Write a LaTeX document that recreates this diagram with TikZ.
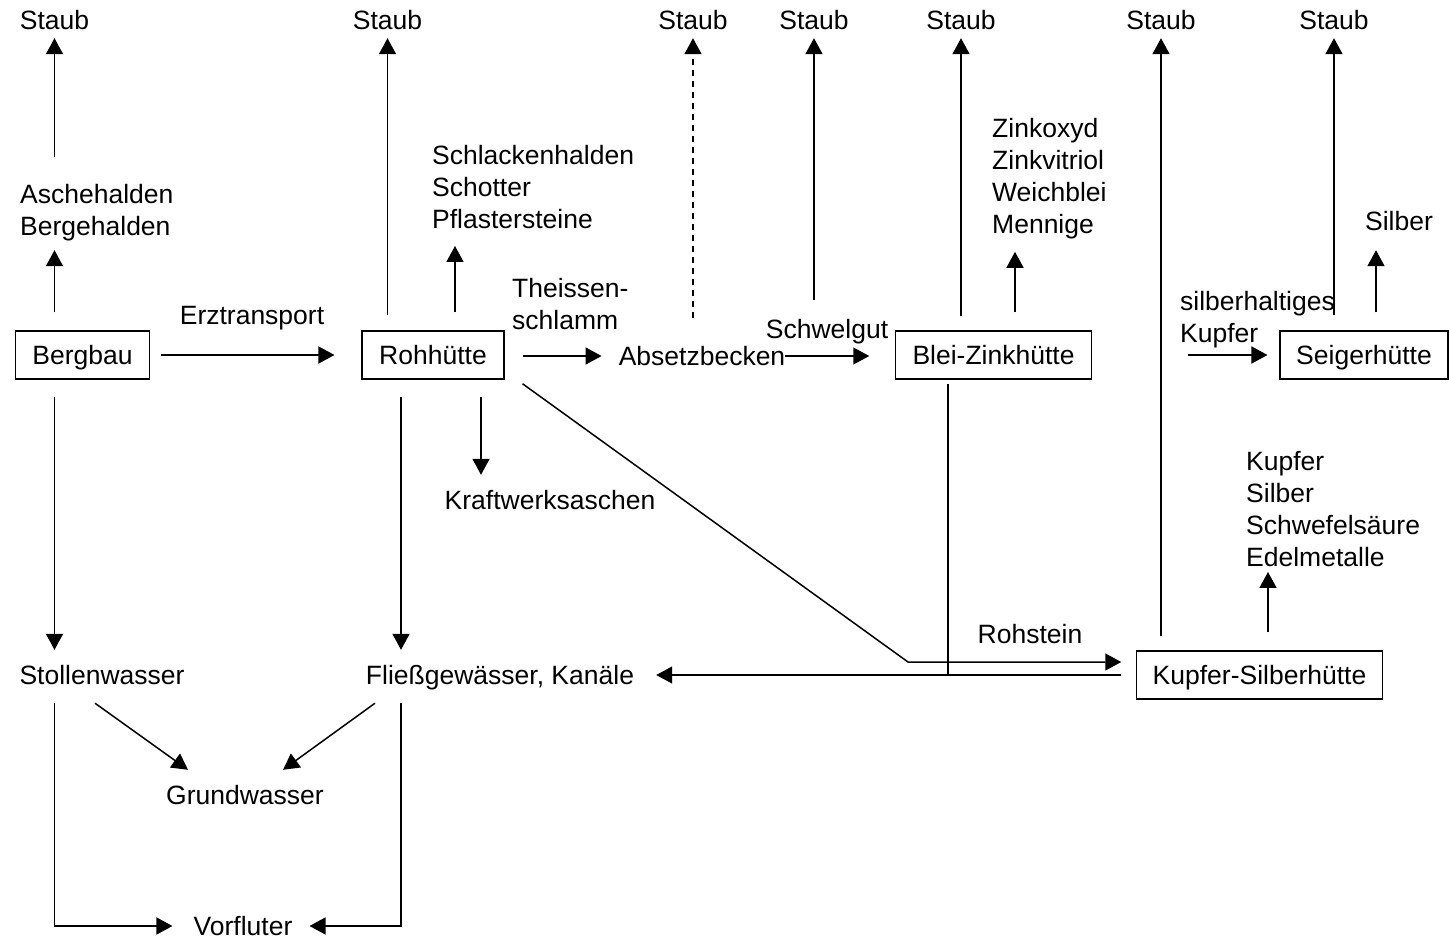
\documentclass[tikz,border=0pt]{standalone}
\usepackage{fontspec}
\setmainfont{Liberation Sans}
\usetikzlibrary{arrows.meta}
\tikzset{
  every node/.style={font=\fontsize{26.5}{32}\selectfont},
  txt/.style={inner sep=0pt, text height=19pt, text depth=0pt},
  lst/.style={inner sep=0pt, align=left, anchor=base west},
  box/.style={draw, line width=1.5pt, inner xsep=17pt, inner ysep=14.5pt, text height=19pt, text depth=0pt},
  arr/.style={line width=1.5pt, -{Triangle[length=16pt,width=17pt]}},
  strich/.style={line width=1.5pt}
}
\begin{document}
\begin{tikzpicture}[x=1pt,y=-1pt]
\useasboundingbox (0,0) rectangle (1449,939);
% Betriebe
\node[box] (bergbau) at (82.5,355) {Bergbau};
\node[box] (roh) at (433,355) {Rohhütte};
\node[box] (blei) at (993.5,355) {Blei-Zinkhütte};
\node[box, inner xsep=16pt] (seiger) at (1364,355) {Seigerhütte};
\node[box, inner xsep=16pt] (kupfer) at (1259.5,675) {Kupfer-Silberhütte};
% Staub
\foreach \n/\x in {1/54.5,2/387.5,3/693,4/814,5/961,6/1161,7/1334}
  \node[txt] (staub\n) at (\x,20) {Staub};
% Produkte (Grundlinie der letzten Zeile)
\node[lst] (asche) at (20,235.5) {Aschehalden\\Bergehalden};
\node[lst] (schlacken) at (432,228.5) {Schlackenhalden\\Schotter\\Pflastersteine};
\node[lst] (theissen) at (512,329.5) {Theissen-\\schlamm};
\node[lst] (zink) at (992,233.5) {Zinkoxyd\\Zinkvitriol\\Weichblei\\Mennige};
\node[lst] (silberh) at (1180,342.5) {silberhaltiges\\Kupfer};
\node[lst] (kupferlst) at (1246,566.5) {Kupfer\\Silber\\Schwefelsäure\\Edelmetalle};
\node[txt] (silber) at (1399,221) {Silber};
\node[txt] (erz) at (252,315) {Erztransport};
\node[txt] (absetz) at (702,356) {Absetzbecken};
\node[txt] (schwel) at (827,329) {Schwelgut};
\node[txt] (kraft) at (550,500) {Kraftwerksaschen};
\node[txt] (rohstein) at (1030,634) {Rohstein};
% Wasser
\node[txt] (stollen) at (102,675) {Stollenwasser};
\node[txt] (fliess) at (500,675) {Fließgewässer, Kanäle};
\node[txt] (grund) at (245,795) {Grundwasser};
\node[txt] (vorfluter) at (243,926) {Vorfluter};
\coordinate (knick) at (908,662);

% Staubpfeile
\draw[arr, shorten <=18pt, shorten >=9pt] (bergbau.north -| staub1) -- (asche.south -| staub1);
\draw[arr, shorten <=27pt, shorten >=8.5pt] (asche.north -| staub1) -- (staub1.south);
\draw[arr, shorten <=15pt, shorten >=8.5pt] (roh.north -| staub2) -- (staub2.south);
\draw[arr, dash pattern=on 6pt off 5pt, shorten <=28.5pt, shorten >=8.5pt] (absetz.north -| staub3) -- (staub3.south);
\draw[arr, shorten <=19.5pt, shorten >=8.5pt] (schwel.north -| staub4) -- (staub4.south);
\draw[arr, shorten <=14pt, shorten >=8.5pt] (blei.north -| staub5) -- (staub5.south);
\draw[arr, shorten <=14pt, shorten >=8.5pt] (kupfer.north -| staub6) -- (staub6.south);
\draw[arr, shorten <=15pt, shorten >=8.5pt] (seiger.north -| staub7) -- (staub7.south);

% Produkte
\draw[arr, shorten <=10.4pt, shorten >=27pt] (bergbau.east) -- (roh.west);
\draw[arr, shorten <=18pt, shorten >=17pt] (roh.north -| 455,0) -- (schlacken.south -| 455,0);
\draw[arr, shorten <=18pt, shorten >=17pt] (roh.east |- absetz.west) -- (absetz.west);
\draw[arr, shorten >=25.5pt] (absetz.east) -- (blei.west |- absetz.east);
\draw[arr, shorten <=18pt, shorten >=12.6pt] (blei.north -| 1015,0) -- (zink.south -| 1015,0);
\draw[arr, shorten <=8pt, shorten >=12pt] (silberh.west |- seiger.west) -- (seiger.west);
\draw[arr, shorten <=18pt, shorten >=19.5pt] (seiger.north -| 1376,0) -- (silber.south -| 1376,0);
\draw[arr, shorten <=18pt, shorten >=5pt] (kupfer.north -| 1268,0) -- (kupferlst.south -| 1268,0);
\draw[arr, shorten <=17pt, shorten >=15.5pt] (roh.south -| 481,0) -- (kraft.north -| 481,0);
\draw[arr, shorten >=14.7pt] ([shift={(18,4)}]roh.south east) -- (knick) -- (kupfer.west |- knick);
\draw[strich, shorten <=4pt] (948,0 |- blei.south) -- (948,0 |- kupfer.west);
\draw[arr, shorten <=14.7pt, shorten >=22pt] (kupfer.west) -- (fliess.east);

% Wasserwege
\draw[arr, shorten <=17pt, shorten >=15.5pt] (bergbau.south -| staub1) -- (stollen.north -| staub1);
\draw[arr, shorten <=17pt, shorten >=15.5pt] (roh.south -| 401,0) -- (fliess.north -| 401,0);
\draw[arr] ([shift={(-7,18.5)}]stollen.south) -- ([shift={(-57,-15.5)}]grund.north);
\draw[arr] ([shift={(-125,18.5)}]fliess.south) -- ([shift={(38,-15.5)}]grund.north);
\draw[arr, shorten <=18.5pt, shorten >=21pt] (stollen.south -| staub1) -- (vorfluter.west -| staub1) -- (vorfluter.west);
\draw[arr, shorten <=18.5pt, shorten >=17pt] (fliess.south -| 401,0) -- (vorfluter.east -| 401,0) -- (vorfluter.east);
\end{tikzpicture}
\end{document}
